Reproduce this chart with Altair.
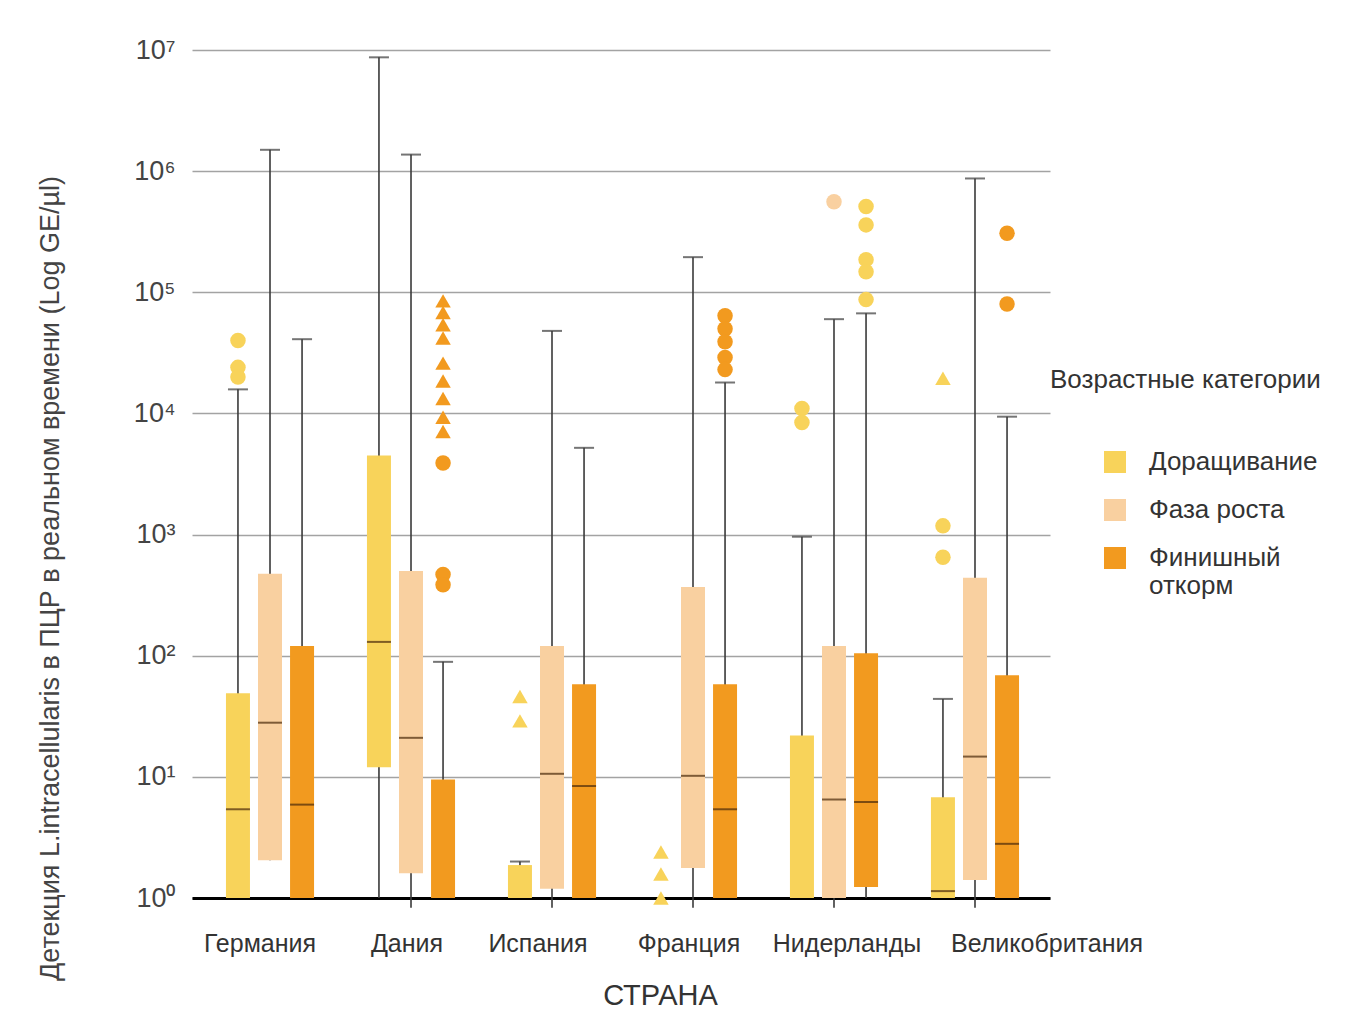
import altair as alt
import pandas as pd

countries = ["Германия", "Дания", "Испания", "Франция", "Нидерланды", "Великобритания"]
phases = ["Доращивание", "Фаза роста", "Финишный откорм"]
phase_colors = ["#F8D35A", "#F9D0A0", "#F29A1F"]

# box statistics per phase, in country order (None = no box)
q1 = {
    "Доращивание": [1, 12, 1, None, 1, 1],
    "Фаза роста": [2.05, 1.6, 1.19, 1.77, 1, 1.41],
    "Финишный откорм": [1, 1, 1, 1, 1.23, 1],
}
median = {
    "Доращивание": [5.4, 130, None, None, None, 1.14],
    "Фаза роста": [28, 21, 10.6, 10.2, 6.5, 14.7],
    "Финишный откорм": [5.9, None, 8.4, 5.4, 6.2, 2.8],
}
q3 = {
    "Доращивание": [49, 4500, 1.87, None, 22, 6.8],
    "Фаза роста": [475, 500, 120, 370, 120, 440],
    "Финишный откорм": [120, 9.5, 58, 58, 105, 69],
}
whisker_low = {
    "Доращивание": [1, 1, 1, None, 1, 1],
    "Фаза роста": [2.05, 0.83, 0.83, 0.83, 0.83, 0.83],
    "Финишный откорм": [1, 1, 1, 1, 1, 1],
}
whisker_high = {
    "Доращивание": [15800, 8.7e6, 2.0, None, 960, 44],
    "Фаза роста": [1.5e6, 1.37e6, 48000, 195000, 60000, 870000],
    "Финишный откорм": [41000, 89, 5200, 18000, 67000, 9400],
}

# outliers: country, box (phase), colour series, kind, value
out_country = (["Германия"] * 3 + ["Дания"] * 12 + ["Испания"] * 2 + ["Франция"] * 8
               + ["Нидерланды"] * 8 + ["Великобритания"] * 5)
out_box = (["Доращивание"] * 3 + ["Финишный откорм"] * 12 + ["Доращивание"] * 2
           + ["Доращивание"] * 3 + ["Финишный откорм"] * 5
           + ["Доращивание"] * 2 + ["Фаза роста"] + ["Финишный откорм"] * 5
           + ["Доращивание"] * 3 + ["Финишный откорм"] * 2)
out_series = (["Доращивание"] * 3 + ["Финишный откорм"] * 12 + ["Доращивание"] * 2
              + ["Доращивание"] * 3 + ["Финишный откорм"] * 5
              + ["Доращивание"] * 2 + ["Фаза роста"] + ["Доращивание"] * 5
              + ["Доращивание"] * 3 + ["Финишный откорм"] * 2)
out_kind = (["выброс"] * 3 + ["экстремум"] * 9 + ["выброс"] * 3 + ["экстремум"] * 2
            + ["экстремум"] * 3 + ["выброс"] * 5
            + ["выброс"] * 2 + ["выброс"] + ["выброс"] * 5
            + ["экстремум"] + ["выброс"] * 2 + ["выброс"] * 2)
out_value = ([40000, 24000, 20000]
             + [85000, 68000, 54000, 42000, 26000, 18500, 13300, 9300, 7100, 3900, 468, 386]
             + [46, 29]
             + [2.4, 1.58, 1.0] + [64000, 50000, 39000, 29000, 23000]
             + [11000, 8400] + [560000] + [510000, 360000, 186000, 148000, 87000]
             + [19500, 1180, 650] + [307000, 80000])

y_title = "Детекция L.intracellularis  в ПЦР в реальном времени (Log GE/µl)"
x_title = "СТРАНА"
legend_title = "Возрастные категории"
y_ticks = [1, 10, 100, 1000, 10000, 100000, 1000000, 10000000]

rows = []
for p in phases:
    for i, c in enumerate(countries):
        rows.append(dict(country=c, phase=p, q1=q1[p][i], med=median[p][i], q3=q3[p][i],
                         lo=whisker_low[p][i], hi=whisker_high[p][i]))
box_df = pd.DataFrame(rows)
out_df = pd.DataFrame(dict(country=out_country, phase=out_box, series=out_series,
                           kind=out_kind, value=out_value))

FONT = "Liberation Sans"

label_nudge = {
    "condition": [
        {"test": "datum.value == 'Германия'", "value": -10},
        {"test": "datum.value == 'Испания'", "value": -14},
        {"test": "datum.value == 'Франция'", "value": -4},
        {"test": "datum.value == 'Нидерланды'", "value": 13},
        {"test": "datum.value == 'Великобритания'", "value": 72},
    ],
    "value": -4,
}

x_enc = alt.X("country:N", sort=countries,
              scale=alt.Scale(paddingInner=0, paddingOuter=0.0426, align=0.625),
              axis=alt.Axis(labelAngle=0, labelFontSize=25, labelColor="#333333",
                            labelPadding=33, ticks=False, tickSize=0, domainColor="#000000",
                            domainWidth=3, grid=False, titleFontSize=29, titleFontWeight="normal",
                            titleColor="#333333", titleX=468, titleY=97, titleBaseline="middle",
                            labelFont=FONT, titleFont=FONT, labelOffset=label_nudge,
                            labelOverlap=False, labelLimit=400),
              title=x_title)
xo_enc = alt.XOffset("phase:N", sort=phases,
                     scale=alt.Scale(domain=phases, paddingInner=0, paddingOuter=0.7))
y_scale = alt.Scale(type="log", domain=[1, 1e7], nice=False)
y_axis = alt.Axis(values=y_ticks,
                  labelExpr="'10' + ['⁰','¹','²','³','⁴','⁵','⁶','⁷'][round(log(datum.value)/LN10)]",
                  grid=True, gridColor="#a3a3a3", gridWidth=1.5, domain=False, ticks=False,
                  tickSize=0, labelFontSize=27, labelColor="#444444", labelPadding=17,
                  labelFont=FONT, titleFont=FONT, titleFontSize=27, titleColor="#444444",
                  titleFontWeight="normal", titleX=-142, titleY=528, titleAngle=270,
                  titleAlign="center", titleBaseline="middle", titleLimit=1000)
color_scale = alt.Scale(domain=phases, range=phase_colors)
legend = alt.Legend(orient="none", legendX=910, legendY=399, title=None, symbolType="square",
                    symbolSize=484, symbolStrokeWidth=0, labelFontSize=26, labelColor="#333333",
                    labelFont=FONT, labelOffset=21, rowPadding=22, padding=0, labelLimit=300,
                    labelExpr="datum.label == 'Финишный откорм' ? ['Финишный', 'откорм'] : datum.label")

base = alt.Chart(box_df)

whiskers = base.mark_rule(color="#3a3a3a", strokeWidth=1.6).encode(
    x=x_enc, xOffset=xo_enc,
    y=alt.Y("lo:Q", scale=y_scale, axis=y_axis, title=y_title),
    y2="hi:Q")
caps = base.mark_tick(color="#3a3a3a", size=20, thickness=2).encode(
    x=x_enc, xOffset=xo_enc, y=alt.Y("hi:Q", scale=y_scale))
boxes = base.mark_bar(size=24).encode(
    x=x_enc, xOffset=xo_enc,
    y=alt.Y("q1:Q", scale=y_scale), y2="q3:Q",
    color=alt.Color("phase:N", scale=color_scale, legend=legend))
medians = base.mark_tick(color="#4a2a0a", size=24, thickness=2).encode(
    x=x_enc, xOffset=xo_enc, y=alt.Y("med:Q", scale=y_scale))
points = alt.Chart(out_df).mark_point(filled=True, opacity=1, size=240).encode(
    x=x_enc, xOffset=xo_enc,
    y=alt.Y("value:Q", scale=y_scale),
    color=alt.Color("series:N", scale=color_scale, legend=None),
    shape=alt.Shape("kind:N", scale=alt.Scale(domain=["выброс", "экстремум"],
                                              range=["circle", "triangle-up"]), legend=None))
leg_title = alt.Chart(pd.DataFrame({"t": [legend_title]})).mark_text(
    align="left", baseline="middle", fontSize=26, color="#333333", font=FONT).encode(
    x=alt.value(858), y=alt.value(330), text="t:N")

chart = alt.layer(whiskers, caps, boxes, medians, points, leg_title).properties(
    width=858, height=848,
    autosize=alt.AutoSizeParams(type="none"),
    padding={"left": 184, "top": 42, "right": 290, "bottom": 112},
    background="white",
).configure(font=FONT).configure_view(stroke=None)

chart.save("out.html", embed_options={"renderer": "svg", "actions": False})
